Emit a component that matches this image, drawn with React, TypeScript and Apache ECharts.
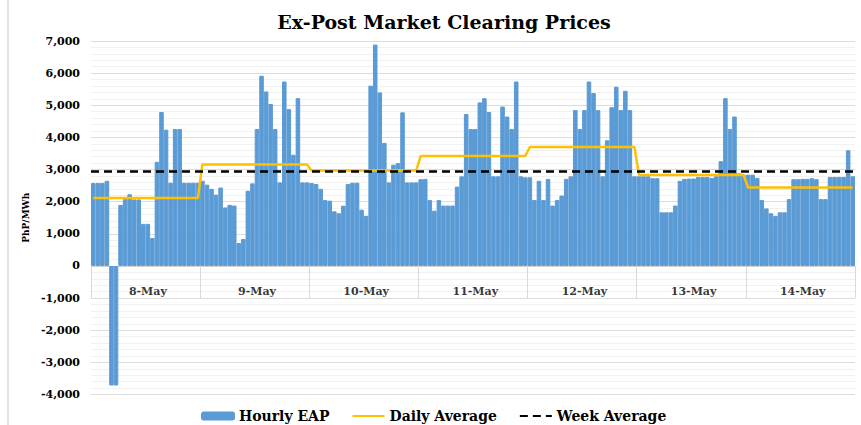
import React, { useEffect, useRef } from "react";
import * as echarts from "echarts";

const days = ["8-May", "9-May", "10-May", "11-May", "12-May", "13-May", "14-May"];

const may8 = [2580, 2580, 2580, 2650, -3720, -3720, 1900, 2080, 2230, 2070, 2070, 1310, 1310, 870, 3240, 4790, 4240, 2590, 4260, 4260, 2590, 2590, 2590, 2590];
const may9 = [2650, 2530, 2400, 2220, 2440, 1820, 1900, 1880, 715, 840, 2340, 2570, 4260, 5920, 5430, 5040, 4260, 2600, 5740, 4880, 3460, 5220, 2600, 2600];
const may10 = [2580, 2550, 2400, 2050, 2030, 1700, 1640, 1875, 2550, 2590, 2590, 1750, 1560, 5610, 6890, 5400, 3830, 2600, 3150, 3200, 4780, 2600, 2600, 2600];
const may11 = [2700, 2710, 2050, 1720, 2050, 1880, 1880, 1880, 2470, 2790, 4730, 4260, 4260, 5090, 5220, 4790, 2790, 2790, 4960, 4650, 4260, 5740, 2790, 2760];
const may12 = [2760, 2050, 2650, 2050, 2710, 1880, 2050, 2190, 2710, 2790, 4850, 4260, 4850, 5740, 5380, 4850, 2790, 3910, 4940, 5580, 4850, 5450, 4850, 2790];
const may13 = [2790, 2790, 2790, 2730, 2730, 1670, 1670, 1670, 1880, 2650, 2710, 2720, 2720, 2770, 2770, 2770, 2740, 2790, 3260, 5220, 4260, 4650, 2880, 2830];
const may14 = [2840, 2840, 2740, 2050, 1790, 1640, 1560, 1670, 1670, 2080, 2700, 2700, 2710, 2710, 2730, 2700, 2080, 2080, 2770, 2770, 2770, 2770, 3600, 2790];

const dailyAverage = [2115, 3160, 2970, 3420, 3700, 2830, 2440];
const weekAverage = 2950;

const yMin = -4000;
const yMax = 7000;
const yStep = 1000;

const HOURS = 24;
const FONT = "DejaVu Serif";

export default function App() {
  const ref = useRef<HTMLDivElement>(null);

  useEffect(() => {
    if (!ref.current) return;
    const chart = echarts.init(ref.current, null, { renderer: "svg" });

    const hourly = [may8, may9, may10, may11, may12, may13, may14].flat();
    const categories = days.flatMap((d) => Array.from({ length: HOURS }, (_, h) => `${d} ${h + 1}`));
    const daily = dailyAverage.flatMap((v) => new Array(HOURS).fill(v));
    // day label anchors: middle of each day's band, on the zero line
    const dayLabels = days.map((d, i) => ({ name: d, value: [i * HOURS + (HOURS - 1) / 2, 0] }));

    chart.setOption({
      animation: false,
      backgroundColor: "#ffffff",
      title: {
        text: "Ex-Post Market Clearing Prices",
        left: 439,
        textAlign: "center",
        top: 7,
        textStyle: { fontFamily: FONT, fontWeight: "bold", fontSize: 19, color: "#000" },
      },
      legend: {
        left: 196,
        top: 404,
        itemWidth: 32,
        itemHeight: 7,
        itemGap: 22,
        textStyle: { fontFamily: FONT, fontWeight: "bold", fontSize: 14, color: "#000" },
        data: [
          { name: "Hourly EAP" },
          { name: "Daily Average", itemStyle: { opacity: 0 } },
          { name: "Week Average", itemStyle: { opacity: 0 } },
        ],
      },
      grid: { left: 91, right: 6, top: 41, bottom: 30.5, containLabel: false },
      xAxis: {
        type: "category",
        data: categories,
        boundaryGap: true,
        axisLine: { onZero: true, lineStyle: { color: "#d0d0d0", width: 1 } },
        axisTick: {
          show: true,
          length: 32,
          interval: (i: number) => i % HOURS === 0,
          lineStyle: { color: "#d9d9d9" },
        },
        axisLabel: { show: false },
        splitLine: { show: false },
      },
      yAxis: {
        type: "value",
        min: yMin,
        max: yMax,
        interval: yStep,
        name: "PhP/MWh",
        nameLocation: "middle",
        nameGap: 56,
        nameTextStyle: { fontFamily: FONT, fontWeight: "bold", fontSize: 9, color: "#000" },
        axisLine: { show: false },
        axisTick: { show: false },
        axisLabel: {
          margin: 11,
          formatter: (v: number) => v.toLocaleString("en-US"),
          fontFamily: FONT,
          fontWeight: "bold",
          fontSize: 11,
          color: "#000",
        },
        splitLine: { show: true, lineStyle: { color: "#dcdcdc", width: 1 } },
        minorTick: { show: false, splitNumber: 5 },
        minorSplitLine: { show: true, lineStyle: { color: "#f1f1f1", width: 1 } },
      },
      graphic: [
        {
          type: "line",
          shape: { x1: 8, y1: 0, x2: 8, y2: 425 },
          style: { stroke: "#d9d9d9", lineWidth: 1.5 },
          silent: true,
        },
      ],
      series: [
        {
          name: "Hourly EAP",
          type: "bar",
          data: hourly,
          barCategoryGap: "0%",
          itemStyle: { color: "#5b9bd5", borderColor: "#5b9bd5", borderWidth: 1 },
        },
        {
          name: "Daily Average",
          type: "line",
          data: daily,
          symbol: "none",
          lineStyle: { color: "#ffc000", width: 2.5 },
          itemStyle: { color: "#ffc000" },
          z: 3,
        },
        {
          name: "Week Average",
          type: "line",
          data: [],
          symbol: "none",
          lineStyle: { color: "#000", width: 2.5, type: [8, 5] },
          itemStyle: { color: "#000" },
          z: 4,
          markLine: {
            silent: true,
            symbol: "none",
            label: { show: false },
            lineStyle: { color: "#000", width: 2.5, type: [8, 5] },
            data: [{ yAxis: weekAverage }],
          },
        },
        {
          name: "dayLabels",
          type: "scatter",
          data: dayLabels,
          symbolSize: 0,
          silent: true,
          z: 5,
          label: {
            show: true,
            formatter: "{b}",
            position: "bottom",
            distance: 20,
            fontFamily: FONT,
            fontWeight: "bold",
            fontSize: 11,
            color: "#000",
          },
        },
      ],
    });

    return () => chart.dispose();
  }, []);

  return (
    <div
      ref={ref}
      style={{ position: "fixed", left: 0, top: 0, width: 861, height: 425 }}
    />
  );
}
